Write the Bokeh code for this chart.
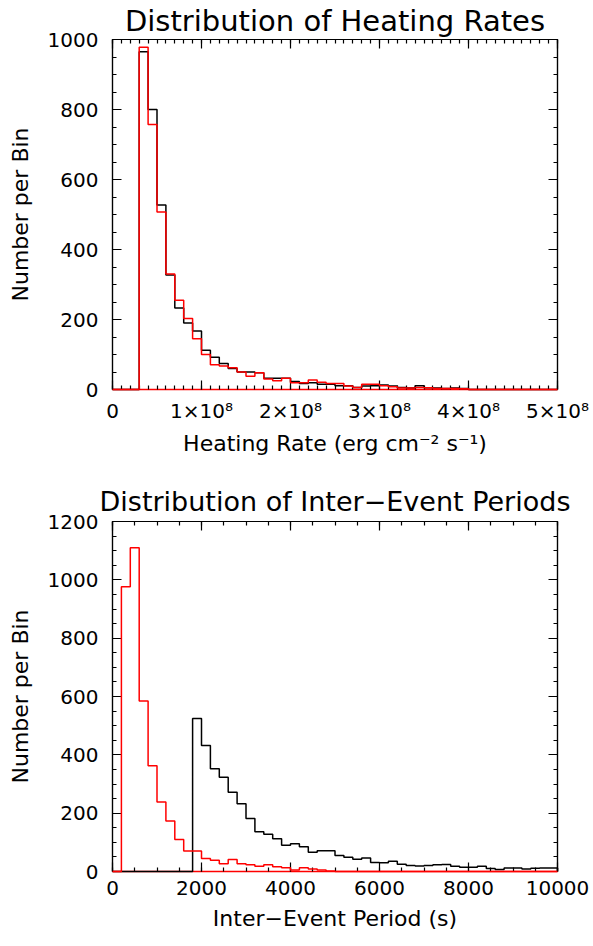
from bokeh.plotting import figure
from bokeh.models import LinearAxis, SingleIntervalTicker, Range1d, CustomLabelingPolicy
from bokeh.layouts import column
from bokeh.embed import file_html
from bokeh.resources import INLINE

FONT = "DejaVu Sans"

# ---------------- Data: distribution of heating rates ----------------
heat_bin_start = 3.0e7
heat_bin_width = 1.0e7
heat_black = [965, 800, 527, 327, 233, 190, 167, 112, 92, 74,
              60, 50, 50, 48, 32, 32, 32, 23, 17, 19,
              15, 15, 11, 11, 6, 10, 11, 13, 10, 6,
              4, 11, 5, 4, 3, 4, 3]
heat_red = [978, 757, 507, 330, 255, 203, 145, 100, 71, 67,
            62, 50, 38, 48, 30, 25, 32, 19, 19, 27,
            21, 17, 17, 10, 6, 15, 15, 11, 8, 4,
            4, 6, 5, 3, 3, 3, 2]
heat_xticks = [0, 100000000, 200000000, 300000000, 400000000, 500000000]
heat_xtick_labels = ["0", "1×10⁸", "2×10⁸", "3×10⁸", "4×10⁸", "5×10⁸"]

# ---------------- Data: distribution of inter-event periods ----------------
period_bin_width = 200
period_black_start = 1800
period_black = [525, 432, 352, 323, 272, 232, 182, 136, 128, 112,
                90, 95, 85, 66, 71, 71, 55, 49, 42, 46,
                31, 30, 35, 25, 21, 19, 21, 23, 24, 18,
                15, 15, 18, 10, 7, 12, 12, 9, 11, 12, 12]
period_red_start = 200
period_red = [976, 1110, 585, 363, 238, 173, 110, 70, 70, 45,
              39, 27, 41, 27, 23, 18, 23, 16, 13, 5,
              13, 9, 5, 2]


def step_xy(start, width, counts, xmin, xmax):
    edges = [start + i * width for i in range(len(counts) + 1)]
    xs = [xmin] + edges + [xmax]
    ys = [0] + list(counts) + [0, 0]
    return xs, ys


def style_axis(ax, show_labels, line_color="black"):
    ax.major_tick_in = 9
    ax.major_tick_out = 0
    ax.minor_tick_in = 4
    ax.minor_tick_out = 0
    ax.major_tick_line_color = "black"
    ax.minor_tick_line_color = "black"
    ax.major_tick_line_width = 1.2
    ax.minor_tick_line_width = 1.2
    ax.axis_line_color = line_color
    ax.axis_line_width = 1.5 if line_color != "black" else 1.2
    ax.major_label_text_font = FONT
    ax.major_label_text_color = "black"
    ax.major_label_text_font_size = "20px"
    ax.axis_label_text_font = FONT
    ax.axis_label_text_font_size = "22px"
    ax.axis_label_text_font_style = "normal"
    ax.axis_label_text_color = "black"
    if not show_labels:
        # tick marks only (mirrored frame ticks), no labels
        ax.major_label_policy = CustomLabelingPolicy(code="return new Set()")
        ax.major_label_text_font_size = "0px"
        ax.major_label_standoff = 0
        ax.axis_label = None


def make_fig(title, xlabel, xr, yr, xint, xminor, yint, yminor,
             top, bottom, title_size, title_standoff, xlabel_standoff,
             overrides=None):
    p = figure(frame_width=445, frame_height=350,
               x_range=Range1d(*xr), y_range=Range1d(*yr),
               output_backend="svg", toolbar_location=None,
               min_border_left=112, min_border_right=33,
               min_border_top=top, min_border_bottom=bottom,
               title=title, x_axis_label=xlabel,
               y_axis_label="Number per Bin")
    p.grid.visible = False
    p.outline_line_color = "black"
    p.outline_line_width = 1.2
    p.background_fill_color = "white"
    p.border_fill_color = "white"
    p.title.text_font = FONT
    p.title.text_font_size = title_size
    p.title.text_font_style = "normal"
    p.title.text_color = "black"
    p.title.align = "center"
    p.title.standoff = title_standoff

    xa = p.below[0]
    ya = p.left[0]
    xa.ticker = SingleIntervalTicker(interval=xint, num_minor_ticks=xminor)
    ya.ticker = SingleIntervalTicker(interval=yint, num_minor_ticks=yminor)
    # the red baseline of the histogram covers the bottom edge of the frame
    style_axis(xa, True, line_color="red")
    style_axis(ya, True)
    xa.major_label_standoff = 9
    xa.axis_label_standoff = xlabel_standoff
    ya.major_label_standoff = 14
    ya.axis_label_standoff = 12
    if overrides:
        xa.major_label_overrides = overrides

    ta = LinearAxis(ticker=SingleIntervalTicker(interval=xint, num_minor_ticks=xminor))
    style_axis(ta, False)
    p.add_layout(ta, "above")
    ra = LinearAxis(ticker=SingleIntervalTicker(interval=yint, num_minor_ticks=yminor))
    style_axis(ra, False)
    p.add_layout(ra, "right")
    return p


p1 = make_fig("Distribution of Heating Rates",
              "Heating Rate (erg cm⁻² s⁻¹)",
              (0, 500000000), (0, 1000), 100000000, 10, 200, 4,
              32, 87, "29px", 3, 5, dict(zip(heat_xticks, heat_xtick_labels)))
xs, ys = step_xy(heat_bin_start, heat_bin_width, heat_black, 0, 500000000)
r = p1.step(xs, ys, mode="after", line_color="black", line_width=1.5)
r.level = "overlay"
xs, ys = step_xy(heat_bin_start, heat_bin_width, heat_red, 0, 500000000)
r = p1.step(xs, ys, mode="after", line_color="red", line_width=1.5)
r.level = "overlay"

p2 = make_fig("Distribution of Inter−Event Periods",
              "Inter−Event Period (s)",
              (0, 10000), (0, 1200), 2000, 4, 200, 4,
              45, 66, "27px", 9, 8)
xs, ys = step_xy(period_black_start, period_bin_width, period_black, 0, 10000)
r = p2.step(xs, ys, mode="after", line_color="black", line_width=1.5)
r.level = "overlay"
xs, ys = step_xy(period_red_start, period_bin_width, period_red, 0, 10000)
r = p2.step(xs, ys, mode="after", line_color="red", line_width=1.5)
r.level = "overlay"

layout = column(p1, p2)
open("out.html", "w").write(file_html(layout, INLINE))
